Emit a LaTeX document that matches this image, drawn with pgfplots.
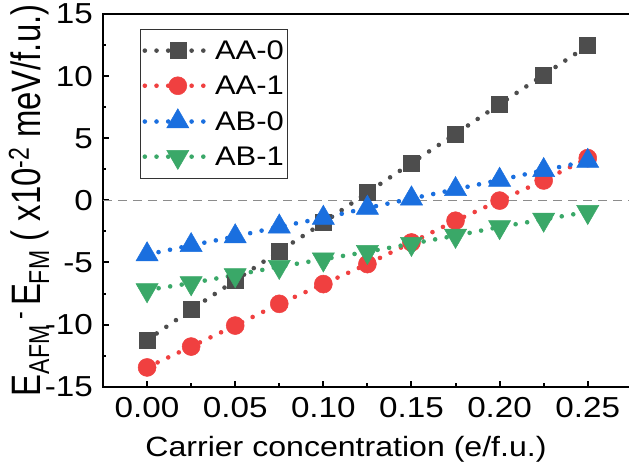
\documentclass[border=0pt]{standalone}
\usepackage{fontspec}
\setmainfont{Liberation Sans}[FakeStretch=1.15]
\newfontfamily\ylabfont{Liberation Sans}
\usepackage{pgfplots}
\pgfplotsset{compat=1.18}

\definecolor{cAAz}{RGB}{77,77,77}
\definecolor{cAAo}{RGB}{240,64,64}
\definecolor{cABz}{RGB}{26,111,223}
\definecolor{cABo}{RGB}{58,168,104}

\pgfplotsset{
  dotline/.style={line width=4.6bp, line cap=round, dash pattern=on 0bp off 11.7bp},
}

\begin{document}
\begin{tikzpicture}
\useasboundingbox (-103bp,-85.3bp) rectangle (526bp,386.7bp);
\begin{axis}[
  scale only axis, width=528.8bp, height=372.7bp,
  xmin=-0.025, xmax=0.275, ymin=-15, ymax=15,
  xtick={0,0.05,0.1,0.15,0.2,0.25},
  ytick={-15,-10,-5,0,5,10,15},
  minor x tick num=1, minor y tick num=1,
  tick align=inside, xtick pos=bottom, ytick pos=left,
  major tick length=6bp, minor tick length=3.5bp,
  axis line style={line width=2bp},
  every tick/.append style={line width=2bp, black},
  /pgf/number format/assume math mode=true,
  ticklabel style={font=\fontsize{29}{29}\selectfont},
  xticklabel style={/pgf/number format/fixed, /pgf/number format/fixed zerofill,
    /pgf/number format/precision=2, anchor=north, inner sep=0pt, yshift=-10bp},
  yticklabel style={anchor=east, inner sep=0pt, xshift=-10bp},
  xlabel={Carrier concentration (e/f.u.)},
  xlabel style={at={(axis description cs:0.4595,-0.1886)}, anchor=base,
    font=\fontsize{28}{28}\selectfont},
  ylabel={\ylabfont\fontsize{33}{33}\selectfont\scalebox{1}[1.25]{E\textsubscript{AFM}\,\textsuperscript{-}\,E\textsubscript{FM} ( x10\textsuperscript{-2} meV/f.u.)}},
  ylabel style={at={(axis description cs:-0.14,0.5)}, anchor=center},
  legend style={at={(0.07,0.9598)}, anchor=north west, draw=black!80,
    line width=1bp, font=\fontsize{27}{27}\selectfont,
    row sep=11bp, inner xsep=2bp, inner ysep=9bp},
  legend cell align=left,
  legend image code/.code={\draw[mark repeat=2,mark phase=2] plot coordinates {(0bp,0bp) (33bp,0bp) (66bp,0bp)};},
]

% zero line
\addplot[forget plot, draw=black!45, line width=1.5bp, dash pattern=on 9bp off 6bp]
  coordinates {(-0.025,0) (0.275,0)};

\addplot[cAAz, dotline, mark=square*, mark size=8bp,
  mark options={solid, line width=0.5bp, fill=cAAz}]
  coordinates {(0,-11.25) (0.025,-8.8) (0.05,-6.45) (0.075,-4.1) (0.1,-1.8) (0.125,0.63)
    (0.15,3.0) (0.175,5.35) (0.2,7.74) (0.225,10.1) (0.25,12.45)};
\addlegendentry{AA-0}

\addplot[cAAo, dotline, mark=*, mark size=9bp,
  mark options={solid, line width=0.5bp, fill=cAAo}]
  coordinates {(0,-13.45) (0.025,-11.77) (0.05,-10.08) (0.075,-8.33) (0.1,-6.74) (0.125,-5.13)
    (0.15,-3.39) (0.175,-1.64) (0.2,-0.02) (0.225,1.6) (0.25,3.4)};
\addlegendentry{AA-1}

\addplot[cABz, dotline, mark=triangle*, mark size=12.8bp,
  mark options={solid, line width=0.5bp, fill=cABz}]
  coordinates {(0,-4.36) (0.025,-3.62) (0.05,-2.91) (0.075,-2.12) (0.1,-1.42) (0.125,-0.61)
    (0.15,0.14) (0.175,0.89) (0.2,1.64) (0.225,2.42) (0.25,3.16)};
\addlegendentry{AB-0}

\addplot[cABo, dotline, mark=triangle*, mark size=12.8bp,
  mark options={solid, line width=0.5bp, fill=cABo, rotate=180}]
  coordinates {(0,-7.22) (0.025,-6.66) (0.05,-6.01) (0.075,-5.34) (0.1,-4.74) (0.125,-4.14)
    (0.15,-3.49) (0.175,-2.84) (0.2,-2.14) (0.225,-1.54) (0.25,-0.92)};
\addlegendentry{AB-1}

\end{axis}
\end{tikzpicture}
\end{document}
